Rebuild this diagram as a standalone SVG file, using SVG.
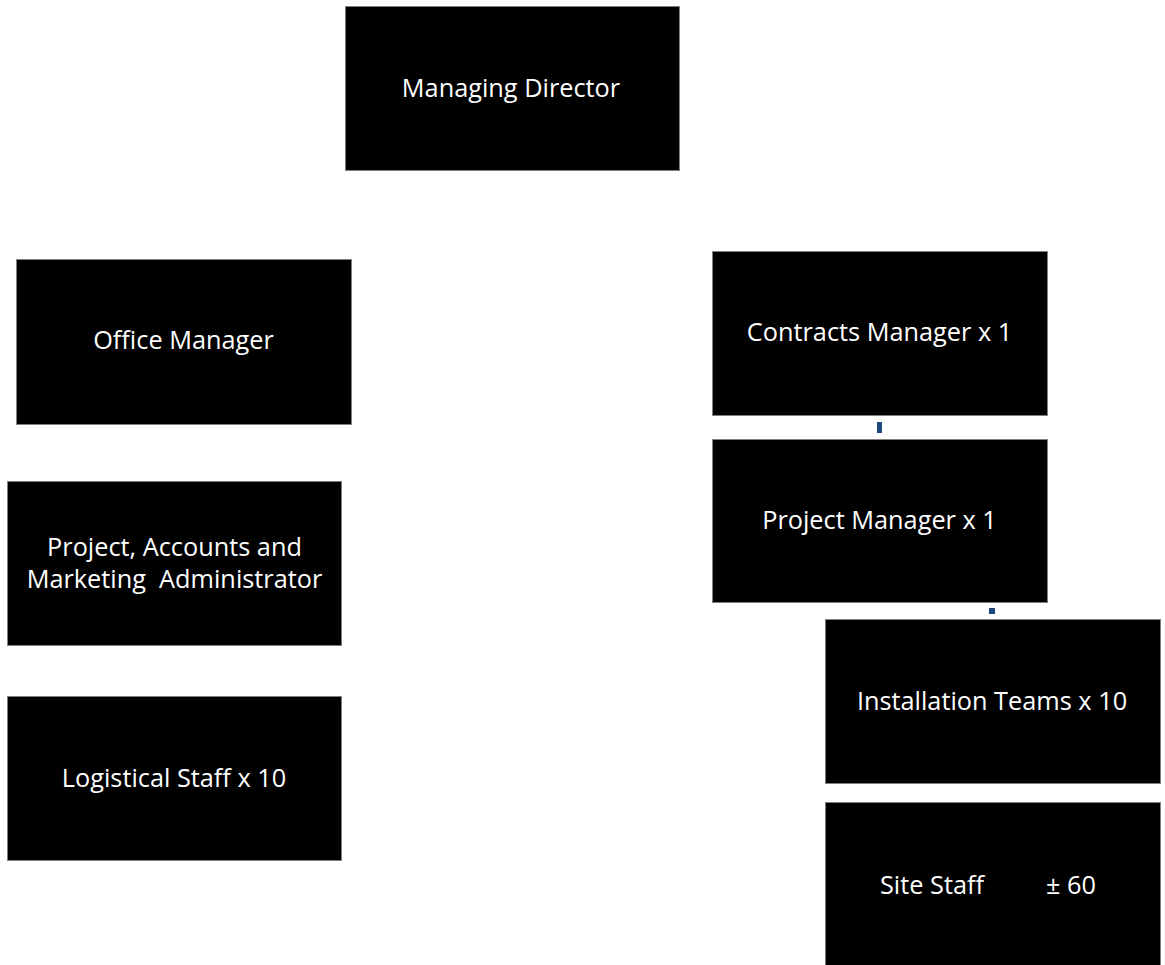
<svg xmlns="http://www.w3.org/2000/svg" width="1165" height="965" viewBox="0 0 1165 965">
<style>
.box{fill:#000;stroke:#7f7f7f;stroke-width:1}
.lbl{fill:#fff;font-family:"Open Sans","Liberation Sans",sans-serif;font-size:25.3px;text-anchor:middle}
.mark{fill:#1f497d}
</style>
<rect width="1165" height="965" fill="#fff"/>
<g id="managing-director">
<rect class="box" x="345.5" y="6.5" width="334" height="164"/>
<text class="lbl" x="511" y="97">Managing Director</text>
</g>
<g id="office-manager">
<rect class="box" x="16.5" y="259.5" width="335" height="165"/>
<text class="lbl" x="183.5" y="349">Office Manager</text>
</g>
<g id="project-accounts-admin">
<rect class="box" x="7.5" y="481.5" width="334" height="164"/>
<text class="lbl" x="174.5" y="556">Project, Accounts and</text>
<text class="lbl" x="174.5" y="588" xml:space="preserve">Marketing  Administrator</text>
</g>
<g id="logistical-staff">
<rect class="box" x="7.5" y="696.5" width="334" height="164"/>
<text class="lbl" x="174" y="787">Logistical Staff x 10</text>
</g>
<g id="contracts-manager">
<rect class="box" x="712.5" y="251.5" width="335" height="164"/>
<text class="lbl" x="879.5" y="341">Contracts Manager x 1</text>
</g>
<g id="project-manager">
<rect class="box" x="712.5" y="439.5" width="335" height="163"/>
<text class="lbl" x="879.5" y="529">Project Manager x 1</text>
</g>
<g id="installation-teams">
<rect class="box" x="825.5" y="619.5" width="335" height="164"/>
<text class="lbl" x="992" y="710">Installation Teams x 10</text>
</g>
<g id="site-staff">
<rect class="box" x="825.5" y="802.5" width="335" height="170"/>
<text class="lbl" style="text-anchor:start" y="894"><tspan x="880">Site Staff</tspan><tspan x="1046">± 60</tspan></text>
</g>
<g id="connectors">
<rect class="mark" x="877" y="422" width="5" height="11"/>
<rect class="mark" x="989" y="608" width="6" height="6"/>
</g>
</svg>
